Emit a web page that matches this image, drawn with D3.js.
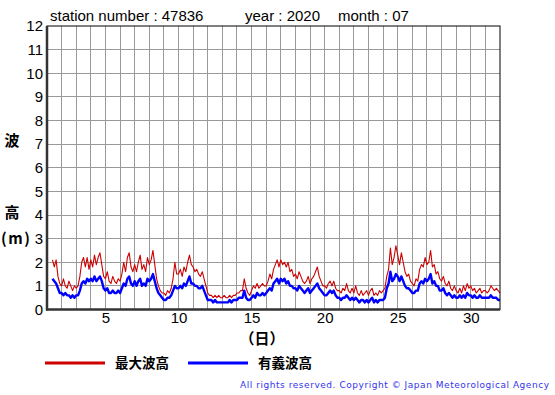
<!DOCTYPE html>
<html>
<head>
<meta charset="utf-8">
<script src="https://cdn.jsdelivr.net/npm/d3@7"></script>
<style>
  html, body { margin: 0; padding: 0; background: #fff; }
  svg { display: block; }
  .lat { font-family: "Liberation Sans", Arial, sans-serif; }
  .cjk { font-family: "Noto Sans CJK JP", sans-serif; }
</style>
</head>
<body>
<svg id="chart" width="555" height="395"></svg>
<script>
// Config
const W = 555, H = 395;
const BOX = { left: 47, right: 500, top: 26, bottom: 309.5 };

// Data: 3-hourly wave heights (m), starting day 1 09:00
const T0 = 1.375;
const STEP = 0.125;

const maxWave = [
  2.1, 1.8, 2.1, 1.4, 1.1,
  1.0, 1.3, 1.0, 0.9, 1.2, 1.0, 0.8, 1.0,
  0.9, 1.0, 1.4, 2.0, 2.2, 1.8, 2.2, 1.7,
  2.1, 1.8, 2.3, 1.9, 2.2, 2.4, 1.9, 1.4,
  1.3, 1.6, 1.2, 1.1, 1.4, 1.2, 1.1, 1.3,
  1.2, 1.5, 2.0, 1.6, 2.2, 2.4, 1.8, 1.6,
  1.9, 1.6, 2.0, 2.3, 1.7, 1.9, 1.6, 2.2,
  1.9, 2.1, 2.5, 1.9, 1.3, 1.0, 0.8, 0.7,
  0.7, 0.6, 0.8, 0.7, 0.9, 1.3, 2.0, 1.5,
  1.5, 1.7, 1.4, 1.8, 1.6, 2.0, 2.3, 1.9,
  1.8, 1.6, 1.7, 1.5, 1.4, 1.6, 1.3, 1.0,
  0.7, 0.6, 0.6, 0.5, 0.6, 0.5, 0.6, 0.5,
  0.5, 0.6, 0.5, 0.5, 0.6, 0.5, 0.6, 0.6,
  0.7, 0.7, 0.8, 0.8, 1.3, 0.9, 0.7, 0.6,
  0.8, 1.0, 0.9, 1.1, 0.9, 1.0, 1.1, 1.0,
  1.0, 1.2, 1.5, 1.3, 1.7, 1.9, 2.1, 1.8,
  2.1, 1.9, 2.0, 1.8, 2.0, 1.6, 1.7, 1.4,
  1.5, 1.3, 1.6, 1.4, 1.2, 1.1, 1.2, 1.4,
  1.1, 1.3, 1.4, 1.6, 1.8, 1.4, 1.2, 1.0,
  1.0, 0.9, 1.1, 1.2, 1.0, 1.2, 0.9, 0.8,
  0.8, 0.7, 0.9, 0.8, 1.1, 0.8, 0.7, 0.9,
  0.7, 1.0, 0.7, 0.6, 0.8, 0.6, 0.7, 0.8,
  0.6, 0.8, 0.9, 0.6, 0.7, 0.6, 0.8, 0.7,
  0.8, 0.9, 1.4, 1.7, 2.6, 1.9, 2.2, 2.7,
  2.3, 1.9, 2.4, 2.0, 1.6, 1.4, 1.5, 1.2,
  1.1, 1.0, 1.3, 1.2, 1.7, 1.9, 1.8, 2.2,
  1.9, 2.0, 2.5, 1.8, 1.9, 1.5, 1.6, 1.3,
  1.2, 1.4, 1.1, 1.0, 1.2, 0.9, 0.8, 1.0,
  0.8, 0.7, 0.9, 0.7, 1.0, 0.8, 1.1, 0.9,
  1.0, 0.8, 0.9, 0.7, 0.8, 0.9, 0.7, 0.8,
  0.8, 0.7, 0.8, 1.0, 0.9, 0.8, 0.9, 0.8,
  0.7
];

const sigWave = [
  1.3, 1.2, 1.1, 0.9, 0.7,
  0.7, 0.6, 0.7, 0.6, 0.6, 0.5, 0.6, 0.5,
  0.6, 0.6, 0.8, 1.1, 1.2, 1.1, 1.3, 1.2,
  1.3, 1.2, 1.4, 1.2, 1.3, 1.4, 1.2, 0.9,
  0.8, 0.9, 0.7, 0.7, 0.8, 0.7, 0.7, 0.8,
  0.7, 0.9, 1.1, 1.0, 1.3, 1.4, 1.1, 1.0,
  1.2, 1.0, 1.2, 1.3, 1.0, 1.1, 1.0, 1.3,
  1.2, 1.3, 1.5, 1.2, 0.9, 0.7, 0.6, 0.5,
  0.4, 0.4, 0.5, 0.5, 0.6, 0.8, 1.0, 0.9,
  0.9, 1.0, 0.9, 1.1, 1.0, 1.2, 1.4, 1.1,
  1.1, 1.0, 1.0, 0.9, 0.9, 1.0, 0.8, 0.6,
  0.4, 0.4, 0.4, 0.3, 0.4, 0.3, 0.3, 0.3,
  0.3, 0.3, 0.3, 0.3, 0.4, 0.3, 0.4, 0.4,
  0.4, 0.5, 0.5, 0.5, 0.8, 0.5, 0.4, 0.4,
  0.5, 0.6, 0.5, 0.7, 0.6, 0.6, 0.7, 0.6,
  0.7, 0.8, 0.9, 0.8, 1.1, 1.2, 1.3, 1.1,
  1.3, 1.2, 1.3, 1.1, 1.2, 1.0, 1.0, 0.9,
  0.9, 0.8, 1.0, 0.9, 0.8, 0.7, 0.8, 0.9,
  0.7, 0.8, 0.9, 1.0, 1.1, 0.9, 0.8, 0.7,
  0.6, 0.6, 0.7, 0.8, 0.7, 0.8, 0.6, 0.5,
  0.5, 0.4, 0.5, 0.5, 0.6, 0.5, 0.4, 0.5,
  0.4, 0.5, 0.4, 0.3, 0.4, 0.4, 0.3, 0.4,
  0.3, 0.4, 0.5, 0.3, 0.4, 0.3, 0.4, 0.4,
  0.4, 0.5, 0.9, 1.1, 1.6, 1.2, 1.3, 1.5,
  1.4, 1.2, 1.4, 1.2, 1.0, 0.9, 0.9, 0.8,
  0.7, 0.7, 0.8, 0.8, 1.1, 1.2, 1.1, 1.3,
  1.2, 1.3, 1.5, 1.1, 1.2, 1.0, 1.0, 0.8,
  0.8, 0.9, 0.7, 0.6, 0.7, 0.6, 0.5, 0.6,
  0.5, 0.5, 0.6, 0.5, 0.6, 0.5, 0.7, 0.6,
  0.6, 0.5, 0.6, 0.5, 0.5, 0.6, 0.5, 0.5,
  0.5, 0.5, 0.5, 0.6, 0.5, 0.5, 0.5, 0.4,
  0.4
];

const yTicks = [0, 1, 2, 3, 4, 5, 6, 7, 8, 9, 10, 11, 12];
const xTicks = [5, 10, 15, 20, 25, 30];
const dayGrid = d3.range(2, 32);

const SERIES = [
  { name: "最大波高", values: maxWave, color: "#cc0000", width: 1.1 },
  { name: "有義波高", values: sigWave, color: "#0000ff", width: 2.4 },
];

// Scales
const x = d3.scaleLinear().domain([1, 32]).range([BOX.left, BOX.right]);
const y = d3.scaleLinear().domain([0, 12]).range([BOX.bottom, BOX.top]);

const svg = d3.select("#chart");

// Grid
svg.append("g")
  .selectAll("line.v")
  .data(dayGrid)
  .join("line")
  .attr("x1", (d) => x(d)).attr("x2", (d) => x(d))
  .attr("y1", BOX.top).attr("y2", BOX.bottom)
  .attr("stroke", "#999").attr("stroke-width", 1)
  .attr("shape-rendering", "crispEdges");

svg.append("g")
  .selectAll("line.h")
  .data(yTicks.slice(1, -1))
  .join("line")
  .attr("x1", BOX.left).attr("x2", BOX.right)
  .attr("y1", (d) => y(d)).attr("y2", (d) => y(d))
  .attr("stroke", "#999").attr("stroke-width", 1)
  .attr("shape-rendering", "crispEdges");

// Lines
const line = d3.line()
  .x((d, i) => x(T0 + i * STEP))
  .y((d) => y(d));

SERIES.forEach((s) => {
  svg.append("path")
    .datum(s.values)
    .attr("fill", "none")
    .attr("stroke", s.color)
    .attr("stroke-width", s.width)
    .attr("stroke-linejoin", "round")
    .attr("d", line);
});

// Frame
svg.append("rect")
  .attr("x", BOX.left).attr("y", BOX.top)
  .attr("width", BOX.right - BOX.left).attr("height", BOX.bottom - BOX.top)
  .attr("fill", "none").attr("stroke", "#000").attr("stroke-width", 1);
svg.append("line")
  .attr("x1", BOX.left).attr("x2", BOX.left)
  .attr("y1", BOX.top).attr("y2", BOX.bottom + 1)
  .attr("stroke", "#333").attr("stroke-width", 2.5);
svg.append("line")
  .attr("x1", BOX.left - 1).attr("x2", BOX.right)
  .attr("y1", BOX.bottom).attr("y2", BOX.bottom)
  .attr("stroke", "#333").attr("stroke-width", 2.5);

// Axes (labels only)
const yAxis = svg.append("g")
  .attr("transform", `translate(${BOX.left},0)`)
  .call(d3.axisLeft(y).tickValues(yTicks).tickSize(0).tickPadding(4));
yAxis.select(".domain").remove();
yAxis.selectAll("text")
  .attr("font-size", 15).attr("fill", "#000")
  .attr("font-family", "Liberation Sans, Arial, sans-serif");

const xAxis = svg.append("g")
  .attr("transform", `translate(0,${BOX.bottom})`)
  .call(d3.axisBottom(x).tickValues(xTicks).tickSize(0).tickPadding(3));
xAxis.select(".domain").remove();
xAxis.selectAll("text")
  .attr("font-size", 15).attr("fill", "#000")
  .attr("font-family", "Liberation Sans, Arial, sans-serif");

// Title
const title = svg.append("g").attr("class", "lat").attr("font-size", 15).attr("fill", "#000");
title.append("text").attr("x", 50).attr("y", 21).text("station number : 47836");
title.append("text").attr("x", 245).attr("y", 21).text("year : 2020");
title.append("text").attr("x", 338).attr("y", 21).text("month : 07");

// Axis titles
const cj = svg.append("g").attr("class", "cjk").attr("font-size", 15)
  .attr("font-weight", "bold").attr("fill", "#000");
cj.append("text").attr("x", 12).attr("y", 146).attr("text-anchor", "middle").text("波");
cj.append("text").attr("x", 12).attr("y", 218).attr("text-anchor", "middle").text("高");
cj.append("text").attr("x", 1).attr("y", 244).attr("letter-spacing", 1.5).text("(m)");
cj.append("text").attr("x", 262).attr("y", 344).attr("text-anchor", "middle").text("（日）");

// Legend
const legend = svg.append("g");
SERIES.forEach((s, i) => {
  const lx = 45 + i * 143;
  legend.append("line")
    .attr("x1", lx).attr("x2", lx + 60)
    .attr("y1", 363).attr("y2", 363)
    .attr("stroke", s.color).attr("stroke-width", 3);
  legend.append("text")
    .attr("class", "cjk")
    .attr("x", lx + 70).attr("y", 368)
    .attr("font-size", 13.5).attr("font-weight", "bold")
    .text(s.name);
});

// Footer
svg.append("text")
  .attr("x", 240).attr("y", 388)
  .attr("font-family", "DejaVu Sans, Verdana, sans-serif")
  .attr("font-size", 9).attr("fill", "#3333ee")
  .attr("textLength", 309).attr("lengthAdjust", "spacing")
  .text("All rights reserved. Copyright © Japan Meteorological Agency");
</script>
</body>
</html>
